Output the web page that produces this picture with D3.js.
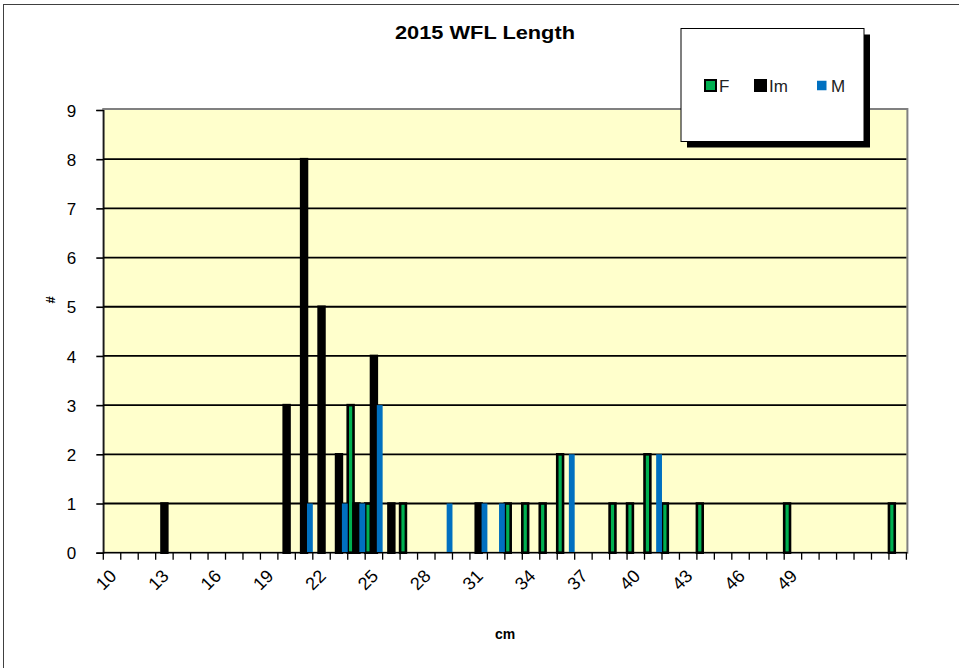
<!DOCTYPE html>
<html>
<head>
<meta charset="utf-8">
<script src="https://cdn.jsdelivr.net/npm/d3@7/dist/d3.min.js"></script>
<style>
  html, body { margin: 0; padding: 0; background: #fff; }
  svg { display: block; }
  text { font-family: Arial, "Liberation Sans", sans-serif; }
</style>
</head>
<body>
<script>
// ---------- data ----------
const categories = ["10","11","12","13","14","15","16","17","18","19",
                    "20","21","22","23","24","25","26","27","28","29",
                    "30","31","32","33","34","35","36","37","38","39",
                    "40","41","42","43","44","45","46","47","48","49",
                    "","","","","",""];
const seriesNames = ["F", "Im", "M"];
const valuesF  = [0,0,0,0,0,0,0,0,0,0, 0,0,0,0,3,1,0,1,0,0, 0,0,0,1,1,1,2,0,0,1, 1,2,1,0,1,0,0,0,0,1, 0,0,0,0,0,1];
const valuesIm = [0,0,0,1,0,0,0,0,0,0, 3,8,5,2,1,4,1,0,0,0, 0,1,0,0,0,0,0,0,0,0, 0,0,0,0,0,0,0,0,0,0, 0,0,0,0,0,0];
const valuesM  = [0,0,0,0,0,0,0,0,0,0, 0,1,0,1,1,3,0,0,0,1, 0,1,1,0,0,0,2,0,0,0, 0,2,0,0,0,0,0,0,0,0, 0,0,0,0,0,0];
const yTicks = [0,1,2,3,4,5,6,7,8,9];
const colors = { F: "#00B050", Im: "#000000", M: "#0070C0" };
const title = "2015 WFL Length";
const xTitle = "cm";
const yTitle = "#";

// ---------- layout ----------
const W = 959, H = 668;
const plot = { left: 103.3, right: 906.4, top: 110, bottom: 552.7 };

const svg = d3.select("body").append("svg").attr("width", W).attr("height", H);

// outer chart frame
svg.append("rect").attr("x", 3.5).attr("y", 4.5).attr("width", W + 10).attr("height", H + 10)
  .attr("fill", "#fff").attr("stroke", "#404040").attr("stroke-width", 1);

const idx = d3.range(categories.length);
const x = d3.scaleBand().domain(idx).range([plot.left, plot.right]).paddingInner(0).paddingOuter(0);
const xs = d3.scaleBand().domain(seriesNames).range([0, x.bandwidth()]).padding(0);
const y = d3.scaleLinear().domain([0, 9]).range([plot.bottom, plot.top]);

// plot background with gray border
svg.append("rect")
  .attr("x", plot.left).attr("y", plot.top - 1)
  .attr("width", plot.right - plot.left + 1).attr("height", plot.bottom - plot.top + 1)
  .attr("fill", "#FFFFCC").attr("stroke", "#808080").attr("stroke-width", 2);

// gridlines
svg.append("g").selectAll("line").data(yTicks.filter(v => v > 0 && v < 9)).join("line")
  .attr("x1", plot.left).attr("x2", plot.right)
  .attr("y1", d => y(d)).attr("y2", d => y(d))
  .attr("stroke", "#000").attr("stroke-width", 1.8);

// bars
const series = [
  { name: "F", values: valuesF, stroke: "#000", sw: 2.6 },
  { name: "Im", values: valuesIm, stroke: "#000", sw: 2.6 },
  { name: "M", values: valuesM, stroke: "none", sw: 0 }
];
series.forEach(s => {
  svg.append("g").selectAll("rect")
    .data(s.values.map((v, i) => ({ i, v })).filter(d => d.v > 0))
    .join("rect")
    .attr("x", d => x(d.i) + xs(s.name))
    .attr("width", xs.bandwidth())
    .attr("y", d => y(d.v))
    .attr("height", d => y(0) - y(d.v))
    .attr("fill", colors[s.name])
    .attr("stroke", s.stroke)
    .attr("stroke-width", s.sw);
});

// y axis
const yAxis = d3.axisLeft(y).tickValues(yTicks).tickSize(7).tickPadding(20).tickFormat(d3.format("d"));
const gy = svg.append("g").attr("transform", `translate(${plot.left},0)`).call(yAxis);
gy.select(".domain").attr("stroke", "#000").attr("stroke-width", 1.2);
gy.selectAll(".tick line").attr("stroke", "#000").attr("stroke-width", 1.6);
gy.selectAll(".tick text").attr("font-size", 17).attr("fill", "#000").attr("dy", "0.36em");

// x axis: tick marks at category boundaries
const xBounds = d3.range(categories.length + 1).map(i => plot.left + i * x.step());
svg.append("line").attr("x1", plot.left).attr("x2", plot.right + 1)
  .attr("y1", plot.bottom).attr("y2", plot.bottom).attr("stroke", "#000").attr("stroke-width", 1.2);
svg.append("g").selectAll("line").data(xBounds).join("line")
  .attr("x1", d => d).attr("x2", d => d)
  .attr("y1", plot.bottom).attr("y2", plot.bottom + 7)
  .attr("stroke", "#000").attr("stroke-width", 1.3);

// x labels every 3rd category, rotated -45
svg.append("g").selectAll("text")
  .data(idx.filter(i => i % 3 === 0 && categories[i] !== ""))
  .join("text")
  .attr("transform", d => `translate(${x(d) + x.bandwidth() / 2 + 1},${plot.bottom + 20}) rotate(-45)`)
  .attr("text-anchor", "end")
  .attr("dy", "0.35em")
  .attr("font-size", 18)
  .attr("fill", "#000")
  .text(d => categories[d]);

// title
svg.append("text").attr("x", 485).attr("y", 39).attr("text-anchor", "middle")
  .attr("font-size", 19).attr("font-weight", "bold")
  .attr("textLength", 180).attr("lengthAdjust", "spacingAndGlyphs").text(title);

// axis titles
svg.append("text").attr("x", 505).attr("y", 639).attr("text-anchor", "middle")
  .attr("font-size", 14).attr("font-weight", "bold").text(xTitle);
svg.append("text").attr("transform", "translate(55,300) rotate(-90)").attr("text-anchor", "middle")
  .attr("font-size", 13).attr("font-weight", "bold").text(yTitle);

// legend
const lg = svg.append("g").attr("transform", "translate(681,28.5)");
lg.append("rect").attr("x", 6).attr("y", 6).attr("width", 183).attr("height", 113).attr("fill", "#000");
lg.append("rect").attr("x", 0).attr("y", 0).attr("width", 183).attr("height", 113)
  .attr("fill", "#fff").attr("stroke", "#000").attr("stroke-width", 1);
const legendItems = [
  { name: "F", sx: 24, size: 11, stroke: "#000", sw: 2 },
  { name: "Im", sx: 74, size: 11, stroke: "#000", sw: 2 },
  { name: "M", sx: 136, size: 9.5, stroke: "none", sw: 0 }
];
legendItems.forEach(it => {
  lg.append("rect").attr("x", it.sx).attr("y", 57 - it.size / 2)
    .attr("width", it.size).attr("height", it.size)
    .attr("fill", colors[it.name]).attr("stroke", it.stroke).attr("stroke-width", it.sw);
  lg.append("text").attr("x", it.sx + 14).attr("y", 57).attr("dy", "0.36em")
    .attr("font-size", 17).attr("fill", "#222").text(it.name);
});
</script>
</body>
</html>
